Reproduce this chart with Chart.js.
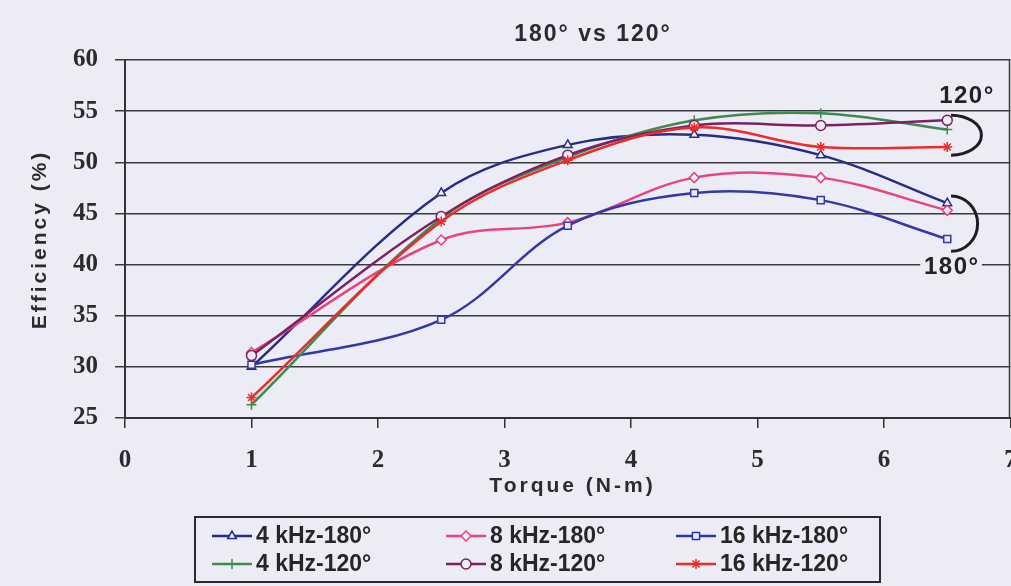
<!DOCTYPE html>
<html>
<head>
<meta charset="utf-8">
<script src="https://cdn.jsdelivr.net/npm/chart.js@4.4.1/dist/chart.umd.min.js"></script>
<style>
    html, body {
        margin: 0px;
        padding: 0px;
        overflow: hidden;
        background-color: #ebecf5;
    }
    #chartContainer {
        width: 1017px;
        height: 586px;
    }
</style>
</head>
<body>
<div id="chartContainer">
    <canvas id="mainChart" width="1017" height="586"></canvas>
</div>
<script>
    // torque points (N-m)
    const torque = [1, 2.5, 3.5, 4.5, 5.5, 6.5];
    // efficiency (%)
    const eff4k180 = [30.0, 47.0, 51.7, 52.7, 50.7, 46.0];
    const eff8k180 = [31.4, 42.4, 44.1, 48.5, 48.5, 45.3];
    const eff16k180 = [30.2, 34.6, 43.8, 47.0, 46.3, 42.5];
    const eff4k120 = [26.3, 44.5, 50.5, 54.1, 54.8, 53.2];
    const eff8k120 = [31.1, 44.7, 50.7, 53.6, 53.6, 54.1];
    const eff16k120 = [27.0, 44.2, 50.2, 53.4, 51.5, 51.5];

    const seriesLabels = ['4 kHz-180°', '8 kHz-180°', '16 kHz-180°', '4 kHz-120°', '8 kHz-120°', '16 kHz-120°'];
    const seriesValues = [eff4k180, eff8k180, eff16k180, eff4k120, eff8k120, eff16k120];
    const lineColors = ['#272d85', '#e8457c', '#3338a6', '#3f8a4e', '#7a2262', '#ee2b2b'];
    const markers = ['triangle', 'rectRot', 'rect', 'cross', 'circle', 'star'];
    const bg = '#ebecf5';

    const datasets = [];
    for (let i = 0; i < seriesValues.length; i++) {
        datasets.push({
            label: seriesLabels[i],
            data: torque.map((t, j) => ({x: t, y: seriesValues[i][j]})),
            borderColor: lineColors[i],
            backgroundColor: bg,
            pointBorderColor: lineColors[i],
            pointBackgroundColor: bg,
            pointStyle: markers[i],
            pointRadius: 5,
            pointBorderWidth: 1.5,
            borderWidth: 2.5,
            tension: 0.35,
            fill: false,
            order: i == 5 ? 0 : 6 - i
        });
    }

    function spacedText(ctx, text, x, y, spacing) {
        ctx.letterSpacing = spacing + 'px';
        ctx.fillText(text, x + spacing / 2, y);
        ctx.letterSpacing = '0px';
    }

    const decorations = {
        id: 'decorations',
        beforeDraw(chart) {
            const ctx = chart.ctx;
            ctx.save();
            ctx.fillStyle = bg;
            ctx.fillRect(0, 0, chart.width, chart.height);
            ctx.restore();
        },
        afterDraw(chart) {
            const ctx = chart.ctx;
            const area = chart.chartArea;
            const xs = chart.scales.x, ys = chart.scales.y;
            ctx.save();
            ctx.fillStyle = '#2b2b2b';
            ctx.textAlign = 'center';
            ctx.textBaseline = 'middle';

            // right border of the plot
            ctx.strokeStyle = '#3a3a3a';
            ctx.lineWidth = 1.5;
            ctx.beginPath();
            ctx.moveTo(area.right - 1, area.top);
            ctx.lineTo(area.right - 1, area.bottom);
            ctx.stroke();

            // chart title
            ctx.font = 'bold 23px "Liberation Sans", Arial, sans-serif';
            spacedText(ctx, '180° vs 120°', 592, 35, 2);

            // axis titles
            ctx.font = 'bold 21px "Liberation Sans", Arial, sans-serif';
            spacedText(ctx, 'Torque (N-m)', 571, 486, 3);
            ctx.save();
            ctx.translate(40, (area.top + area.bottom) / 2 + 2);
            ctx.rotate(-Math.PI / 2);
            spacedText(ctx, 'Efficiency (%)', 0, 0, 3);
            ctx.restore();

            // brackets grouping the curve ends
            ctx.strokeStyle = '#1e1e1e';
            ctx.lineWidth = 3;
            const brackets = [[6.53, 6.77, 54.6, 50.7], [6.53, 6.74, 46.7, 41.3]];
            brackets.forEach(b => {
                const cx = xs.getPixelForValue(b[0]);
                const rx = xs.getPixelForValue(b[1]) - cx;
                const y1 = ys.getPixelForValue(b[2]);
                const y2 = ys.getPixelForValue(b[3]);
                ctx.beginPath();
                ctx.ellipse(cx, (y1 + y2) / 2, rx, (y2 - y1) / 2, 0, -Math.PI / 2, Math.PI / 2);
                ctx.stroke();
            });

            // group labels
            ctx.font = 'bold 24px "Liberation Sans", Arial, sans-serif';
            ctx.fillStyle = '#222';
            spacedText(ctx, '120°', xs.getPixelForValue(6.65), ys.getPixelForValue(56.4), 1.5);
            const lx = xs.getPixelForValue(6.53), ly = ys.getPixelForValue(39.7);
            ctx.letterSpacing = '1.5px';
            const w = ctx.measureText('180°').width;
            ctx.letterSpacing = '0px';
            ctx.fillStyle = bg;
            ctx.fillRect(lx - w / 2 - 3, ly - 12, w + 6, 24);
            ctx.fillStyle = '#222';
            spacedText(ctx, '180°', lx, ly, 1.5);

            // legend box
            ctx.strokeStyle = '#2b2b2b';
            ctx.lineWidth = 2;
            ctx.strokeRect(195, 517, 685, 65);
            const colX = [212, 446, 676];
            const rowY = [536, 564];
            ctx.font = 'bold 23px "Liberation Sans", Arial, sans-serif';
            ctx.textAlign = 'left';
            chart.data.datasets.forEach((ds, i) => {
                const x0 = colX[i % 3], y0 = rowY[Math.floor(i / 3)];
                ctx.strokeStyle = ds.borderColor;
                ctx.lineWidth = 2.5;
                ctx.beginPath();
                ctx.moveTo(x0, y0);
                ctx.lineTo(x0 + 40, y0);
                ctx.stroke();
                ctx.fillStyle = bg;
                ctx.lineWidth = 1.5;
                Chart.helpers.drawPoint(ctx, {pointStyle: ds.pointStyle, radius: 5, borderWidth: 1.5}, x0 + 20, y0);
                ctx.fillStyle = '#262626';
                ctx.fillText(ds.label, x0 + 44, y0 + 1);
            });
            ctx.restore();
        }
    };

    const tickFont = {family: '"Liberation Serif", "Times New Roman", serif', size: 25, weight: 'bold'};

    const config = {
        type: 'line',
        data: {datasets: datasets},
        options: {
            responsive: false,
            animation: false,
            layout: {padding: {top: 60, right: 0, bottom: 86, left: 0}},
            plugins: {
                legend: {display: false},
                title: {display: false},
                tooltip: {enabled: false}
            },
            scales: {
                x: {
                    type: 'linear',
                    min: 0,
                    max: 7,
                    ticks: {stepSize: 1, font: tickFont, color: '#2b2b2b', padding: 18},
                    grid: {drawOnChartArea: false, tickLength: 10, color: '#333', lineWidth: 1.5},
                    border: {display: true, color: '#333', width: 2},
                    afterFit: (s) => { s.height = 82; s.paddingRight = 0; s.paddingLeft = 0; }
                },
                y: {
                    min: 25,
                    max: 60,
                    ticks: {stepSize: 5, font: tickFont, color: '#2b2b2b', padding: 17},
                    grid: {color: '#3a3a3a', lineWidth: 1.5, tickLength: 10},
                    border: {display: true, color: '#333', width: 2},
                    afterFit: (s) => { s.width = 125; s.paddingTop = 0; s.paddingBottom = 0; }
                }
            }
        },
        plugins: [decorations]
    };

    const chart = new Chart(document.getElementById('mainChart'), config);
</script>
</body>
</html>
